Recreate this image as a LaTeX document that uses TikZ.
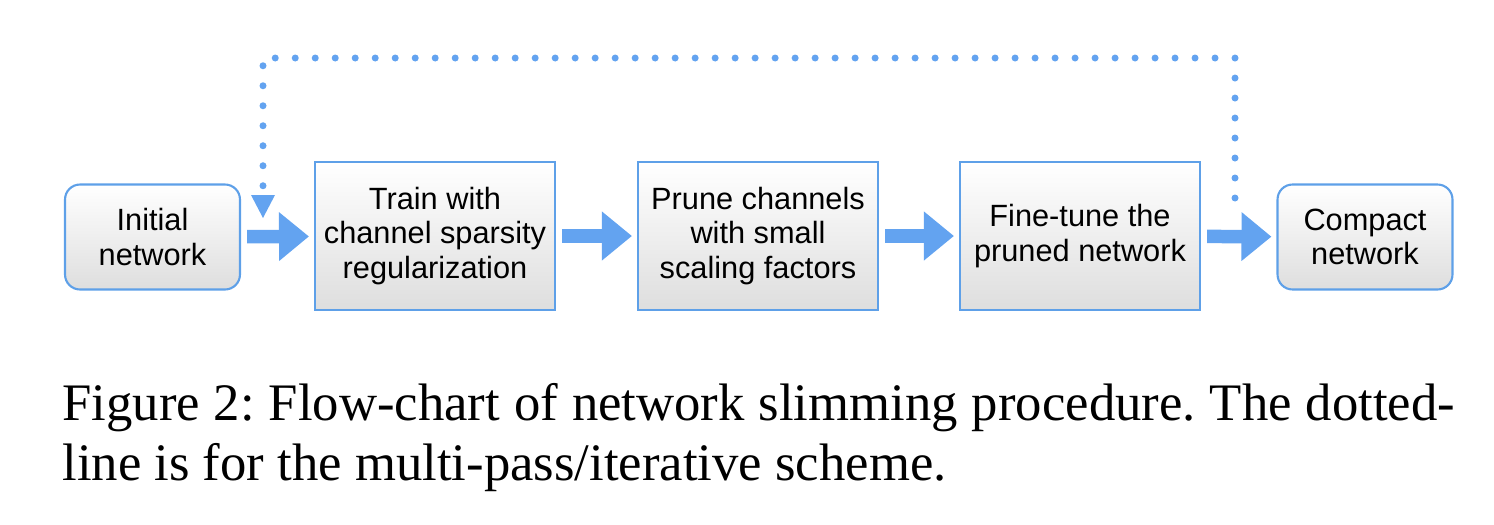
\documentclass[tikz,border=0pt]{standalone}
\usepackage{fontspec}
\setmainfont{Liberation Serif}
\newfontfamily\boxfont{Liberation Sans}
\usetikzlibrary{arrows.meta}

\definecolor{boxline}{RGB}{94,160,232}
\definecolor{flowblue}{RGB}{99,163,240}

\tikzset{
  stepbox/.style={draw=boxline, line width=1.2pt, top color=white, bottom color=black!13,
    minimum width=4.8cm, minimum height=2.96cm, align=center, font=\boxfont\fontsize{17.5}{19.6}\selectfont},
  endbox/.style={stepbox, rounded corners=0.3cm, minimum width=3.5cm, minimum height=2.1cm},
  flow/.style={flowblue, line width=0.27cm, -{Triangle[length=0.6cm, width=0.94cm]}, shorten <=0.12cm, shorten >=0.1cm},
  loopback/.style={flowblue, line width=0.14cm, line cap=round, dash pattern=on 0pt off 0.4cm}
}

\begin{document}
\begin{tikzpicture}[x=0.02cm, y=-0.02cm]
  \useasboundingbox (0,0) rectangle (1494,524);

  % boxes
  \node[endbox]  (init)     at (152.5,237) {Initial\\network};
  \node[stepbox] (train)    at (435,236)   {Train with\\channel sparsity\\regularization};
  \node[stepbox] (prune)    at (758,236)   {Prune channels\\with small\\scaling factors};
  \node[stepbox] (finetune) at (1080,236)  {Fine-tune the\\pruned network};
  \node[endbox]  (compact)  at (1365,237)  {Compact\\network};

  % arrows
  \draw[flow] (init) -- (train);
  \draw[flow] (train) -- (prune);
  \draw[flow] (prune) -- (finetune);
  \draw[flow] (finetune) -- (compact);

  % dotted loop
  \coordinate (loopA) at (1235,198);
  \coordinate (loopB) at (263,196);
  \draw[loopback] (loopA) -- (1235,58) -- (263,58) -- (loopB);
  \fill[flowblue] (251,195) -- (275,195) -- (263,218) -- cycle;

  % caption
  \frenchspacing
  \node[anchor=base west, inner sep=0pt, font=\fontsize{30}{36}\selectfont] (cap1) at (62,420)
    {\hbox to 27.86cm{Figure 2: Flow-chart of network slimming procedure. The dotted-}};
  \node[anchor=base west, inner sep=0pt, font=\fontsize{30}{36}\selectfont] (cap2) at (62,480)
    {line is for the multi-pass/iterative scheme.};
\end{tikzpicture}
\end{document}
